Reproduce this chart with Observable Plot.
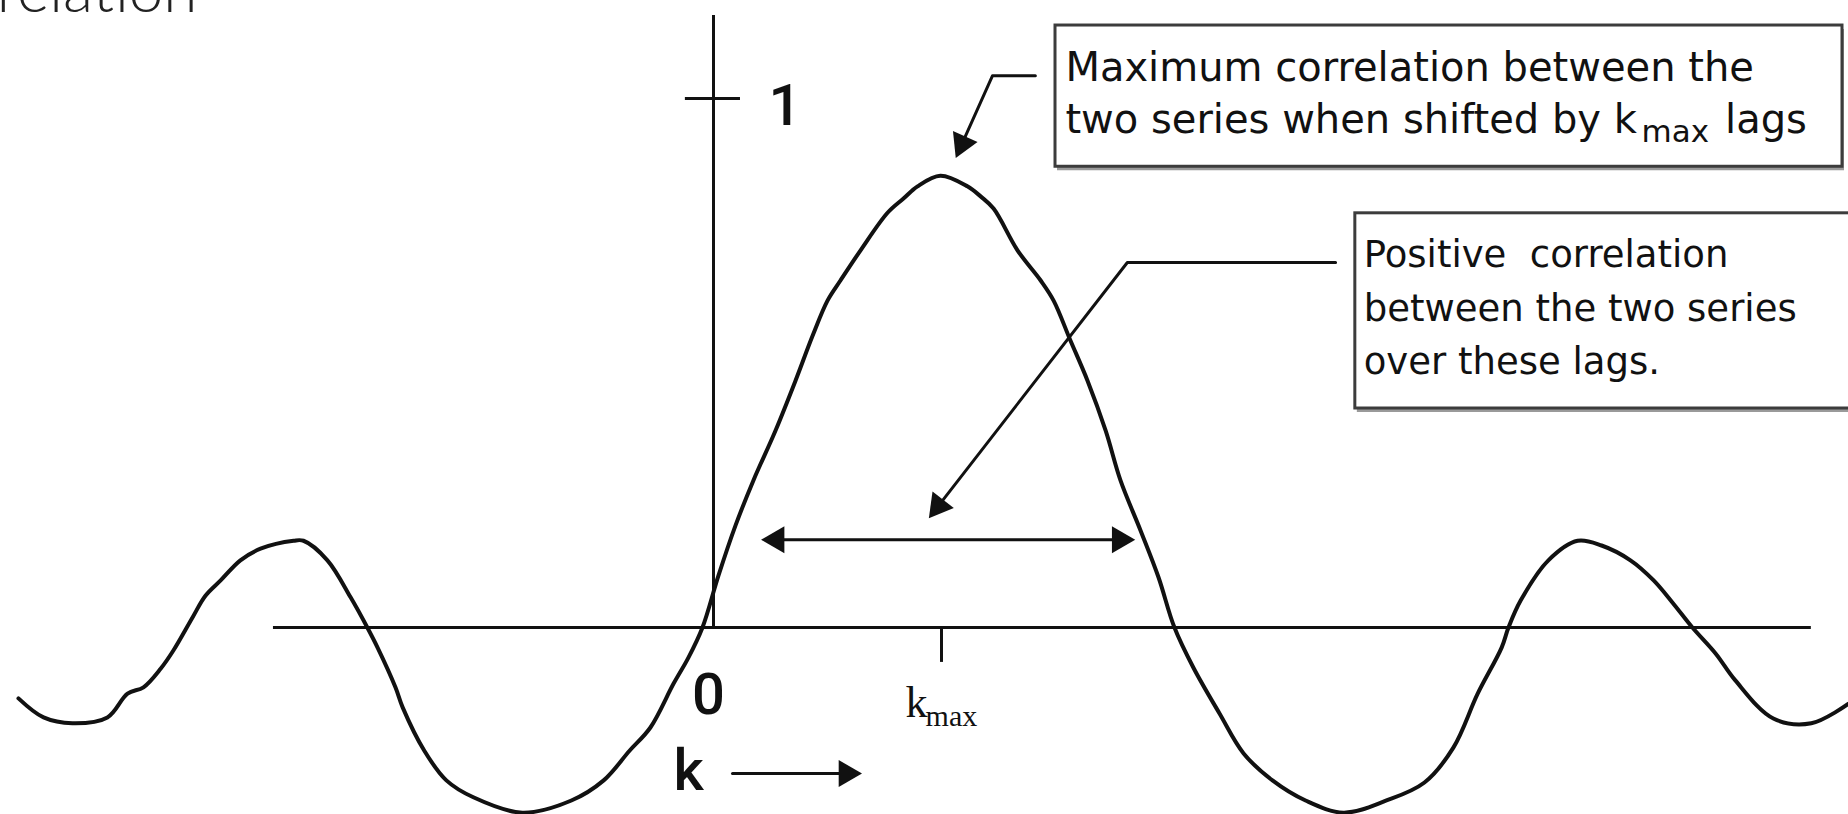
<!DOCTYPE html>
<html><head><meta charset="utf-8">
<script src="https://cdn.jsdelivr.net/npm/d3@7"></script>
<script src="https://cdn.jsdelivr.net/npm/@observablehq/plot@0.6"></script>
<style>html,body{margin:0;padding:0;background:#fff;overflow:hidden;} #chart svg{display:block;}</style>
</head><body><div id="chart"></div>
<script>
// ---- data ----
const lag = [-18.29, -17.63, -16.87, -15.95, -15.42, -15.00, -14.55, -14.21, -13.71, -13.37,
  -12.97, -12.45, -11.92, -11.05, -10.79, -10.16, -9.55, -9.11, -8.84, -8.37,
  -8.18, -7.61, -7.03, -6.32, -5.03, -3.74, -2.89, -2.21, -1.66, -1.05,
  -0.66, -0.29, 0.13, 0.58, 1.05, 1.63, 2.16, 2.61, 3.00, 3.34,
  3.87, 4.58, 5.00, 5.37, 5.97, 6.68, 7.03, 7.37, 8.00, 8.61,
  8.95, 9.39, 9.84, 10.32, 10.71, 11.24, 11.71, 12.13, 12.63, 13.32,
  13.95, 14.71, 15.58, 16.58, 17.71, 18.71, 19.47, 20.11, 20.74, 20.92,
  21.24, 21.97, 22.74, 23.37, 24.13, 24.74, 25.26, 25.76, 26.37, 26.89,
  27.89, 28.89, 29.87];
const corr = [-0.134, -0.170, -0.181, -0.170, -0.125, -0.113, -0.078, -0.043, 0.019, 0.060,
  0.089, 0.127, 0.149, 0.164, 0.164, 0.127, 0.057, 0, -0.038, -0.113,
  -0.151, -0.233, -0.289, -0.321, -0.350, -0.327, -0.289, -0.233, -0.189, -0.106,
  -0.057, 0, 0.098, 0.193, 0.278, 0.372, 0.467, 0.552, 0.618, 0.656,
  0.713, 0.784, 0.811, 0.834, 0.854, 0.834, 0.815, 0.792, 0.713, 0.656,
  0.618, 0.543, 0.467, 0.372, 0.278, 0.183, 0.095, 0, -0.076, -0.163,
  -0.238, -0.289, -0.327, -0.350, -0.327, -0.293, -0.227, -0.125, -0.038, 0,
  0.051, 0.127, 0.164, 0.155, 0.127, 0.089, 0.045, 0, -0.049, -0.100,
  -0.172, -0.181, -0.144];
const kMax = 6;
const yTicks = [1];
const yTickLabels = ["1"];
const originLabel = "0";
const lagAxisLabel = "k";
const kMaxLabel = ["k", "max"];
const titleText = "Correlation";
const note1 = ["Maximum correlation between the", "two series when shifted by k", "max", "lags"];
const note2 = ["Positive\u00a0 correlation", "between the two series", "over these lags."];

// ---- layout ----
const W = 1848, H = 814;
const XD = [-18.763, 29.868], YD = [-0.3535, 1.1853];
const SX = W / (XD[1] - XD[0]), SY = H / (YD[1] - YD[0]);
const curve = lag.map((k, i) => ({k, r: corr[i]}));

function head(tip, from, len = 16) {
  const dxp = (tip[0] - from[0]) * SX, dyp = -(tip[1] - from[1]) * SY;
  const L = Math.hypot(dxp, dyp), ux = dxp / L, uy = dyp / L;
  return {k: tip[0] - ux * len / SX, r: tip[1] + uy * len / SY, a: Math.atan2(ux, -uy) * 180 / Math.PI};
}
function arrow(path, both = false) {
  const n = path.length;
  const h1 = head(path[n - 1], path[n - 2]);
  const pts = path.map(p => ({k: p[0], r: p[1]}));
  pts[n - 1] = {k: h1.k, r: h1.r};
  const heads = [h1];
  if (both) { const h0 = head(path[0], path[1]); heads.push(h0); pts[0] = {k: h0.k, r: h0.r}; }
  return [
    Plot.line(pts, {x: "k", y: "r", stroke: "#111", strokeWidth: 3}),
    Plot.dot(heads, {x: "k", y: "r", rotate: "a", symbol: "triangle", r: 10, fill: "#111", stroke: null})
  ];
}
const arrow1 = [[8.47, 1.043], [7.34, 1.043], [6.37, 0.887]];
const arrow2 = [[16.37, 0.690], [10.89, 0.690], [5.66, 0.206]];
const spanArrow = [[1.24, 0.166], [11.11, 0.166]];
const kArrow = [[0.50, -0.276], [3.92, -0.276]];

function box(x1, x2, y1, y2) {
  return [
    Plot.rect([{x1, x2, y1, y2}], {x1: "x1", x2: "x2", y1: "y1", y2: "y2", fill: "#9a9a9a", dx: 2, dy: 4, clip: true}),
    Plot.rect([{x1, x2, y1, y2}], {x1: "x1", x2: "x2", y1: "y1", y2: "y2", fill: "white", stroke: "#3c3c3c", strokeWidth: 3, clip: true})
  ];
}
function txt(t, k, r, o = {}) {
  return Plot.text([{k, r, t}], {x: "k", y: "r", text: "t", lineAnchor: "bottom", textAnchor: "start", fill: "#111", ...o});
}
const boxFont = {fontFamily: "DejaVu Sans", fontSize: 40};
const box2Font = {fontFamily: "DejaVu Sans", fontSize: 37, clip: true};
const axisFont = {fontFamily: "Roboto", fontWeight: 500, fontSize: 58};

const chart = Plot.plot({
  width: W, height: H, margin: 0,
  x: {domain: XD, axis: null},
  y: {domain: YD, axis: null},
  style: {background: "white"},
  marks: [
    // title (cut at the top-left edge, as in the reference)
    txt(titleText, -13.58, 1.163, {textAnchor: "end", fontFamily: "Lato", fontWeight: 300, fontSize: 62, fill: "#222", clip: true}),
    // axes
    Plot.ruleY([0], {x1: -11.58, x2: 28.89, stroke: "#111", strokeWidth: 3}),
    Plot.ruleX([0], {y1: 0, y2: 1.157, stroke: "#111", strokeWidth: 3}),
    Plot.ruleY(yTicks, {x1: -0.74, x2: 0.71, stroke: "#111", strokeWidth: 3}),
    Plot.ruleX([kMax], {y1: 0, y2: -0.066, stroke: "#111", strokeWidth: 3}),
    Plot.text(yTicks, {x: 1.45, y: d => d - 0.051, text: (d, i) => yTickLabels[i], lineAnchor: "bottom", textAnchor: "start", fill: "#111", ...axisFont}),
    txt(originLabel, -0.13, -0.163, {textAnchor: "middle", ...axisFont}),
    txt(lagAxisLabel, -1.05, -0.308, axisFont),
    txt(kMaxLabel[0], 5.05, -0.170, {fontFamily: "Liberation Serif", fontSize: 44}),
    txt(kMaxLabel[1], 5.58, -0.187, {fontFamily: "Liberation Serif", fontSize: 30}),
    ...arrow(kArrow),
    // the correlation curve
    Plot.line(curve, {x: "k", y: "r", stroke: "#111", strokeWidth: 4, curve: "catmull-rom"}),
    // annotations
    ...arrow(spanArrow, true),
    ...arrow(arrow1),
    ...arrow(arrow2),
    ...box(9.0, 29.71, 0.871, 1.138),
    txt(note1[0], 9.26, 1.034, boxFont),
    txt(note1[1], 9.26, 0.934, boxFont),
    txt(note1[2], 24.42, 0.917, {fontFamily: "DejaVu Sans", fontSize: 31}),
    txt(note1[3], 26.62, 0.934, boxFont),
    ...box(16.89, 31.5, 0.414, 0.783),
    txt(note2[0], 17.11, 0.682, box2Font),
    txt(note2[1], 17.11, 0.580, box2Font),
    txt(note2[2], 17.11, 0.480, box2Font)
  ]
});
document.getElementById("chart").append(chart);
</script>
</body></html>
